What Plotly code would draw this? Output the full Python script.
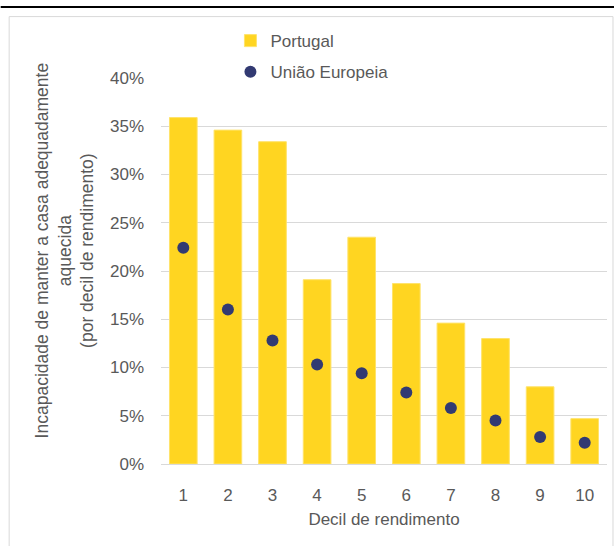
import plotly.graph_objects as go

deciles = ["1", "2", "3", "4", "5", "6", "7", "8", "9", "10"]
portugal = [0.359, 0.346, 0.334, 0.191, 0.235, 0.187, 0.146, 0.130, 0.080, 0.047]
ue = [0.224, 0.160, 0.128, 0.103, 0.094, 0.074, 0.058, 0.045, 0.028, 0.022]
y_ticks = [0, 0.05, 0.10, 0.15, 0.20, 0.25, 0.30, 0.35, 0.40]
y_ticktext = ["0%", "5%", "10%", "15%", "20%", "25%", "30%", "35%", "40%"]
y_title = "Incapacidade de manter a casa adequadamente<br>aquecida<br>(por decil de rendimento)"
x_title = "Decil de rendimento"

FONT = "Liberation Sans Narrow, Arial Narrow, Liberation Sans, Arial, sans-serif"
GRAY = "#595959"

W, H = 614, 546
ML, MR, MT, MB = 160.5, 7, 78, 81.5
PW, PH = W - ML - MR, H - MT - MB

def px(x):
    return (x - ML) / PW

def py(y):
    return (H - MB - y) / PH

fig = go.Figure()
fig.add_trace(go.Bar(
    x=deciles, y=portugal, name="Portugal",
    marker=dict(color="#FFD521", line=dict(color="#FFE36A", width=1)),
    legendgroup="a",
))
fig.add_trace(go.Scatter(
    x=deciles, y=ue, name="União Europeia", mode="markers",
    marker=dict(color="#323A72", size=12),
    legendgroup="b",
))

fig.update_layout(
    width=W, height=H,
    margin=dict(l=ML, r=MR, t=MT, b=MB, autoexpand=False),
    paper_bgcolor="white", plot_bgcolor="white",
    bargap=0.38,
    font=dict(family=FONT, color=GRAY, size=17),
    showlegend=True,
    legend=dict(
        x=px(230), y=py(23), xanchor="left", yanchor="top",
        font=dict(family=FONT, size=17, color=GRAY),
        bgcolor="rgba(0,0,0,0)", tracegroupgap=6, traceorder="grouped",
        itemwidth=30,
    ),
    xaxis=dict(
        range=[-0.5, 9.5],
        showgrid=False, showline=False, zeroline=False,
        tickfont=dict(size=17, color=GRAY), ticklabelstandoff=19,
        title=dict(text=x_title, font=dict(size=17, color=GRAY), standoff=9),
    ),
    yaxis=dict(
        range=[0, 0.4], tickvals=y_ticks, ticktext=y_ticktext,
        showgrid=True, gridcolor="#D9D9D9", gridwidth=1,
        zeroline=True, zerolinecolor="#D9D9D9", zerolinewidth=1,
        showline=False, ticklabelstandoff=16,
        tickfont=dict(size=17, color=GRAY),
    ),
    annotations=[
        dict(text=y_title, xref="paper", yref="paper",
             x=px(64), y=py(251), xanchor="center", yanchor="middle",
             textangle=-90, showarrow=False, align="center",
             font=dict(size=17.5, color=GRAY, family=FONT)),
    ],
    shapes=[
        dict(type="line", xref="paper", yref="paper",
             x0=px(0), x1=px(W), y0=py(7), y1=py(7),
             line=dict(color="black", width=2)),
        dict(type="rect", xref="paper", yref="paper",
             x0=px(8.5), x1=px(613), y0=py(H + 10), y1=py(16.5),
             line=dict(color="#D9D9D9", width=1), layer="below"),
    ],
)

fig.write_html(
    "out.html",
    config={"displayModeBar": False},
    post_script="document.body.style.margin='0';document.body.style.overflow='hidden';",
)
